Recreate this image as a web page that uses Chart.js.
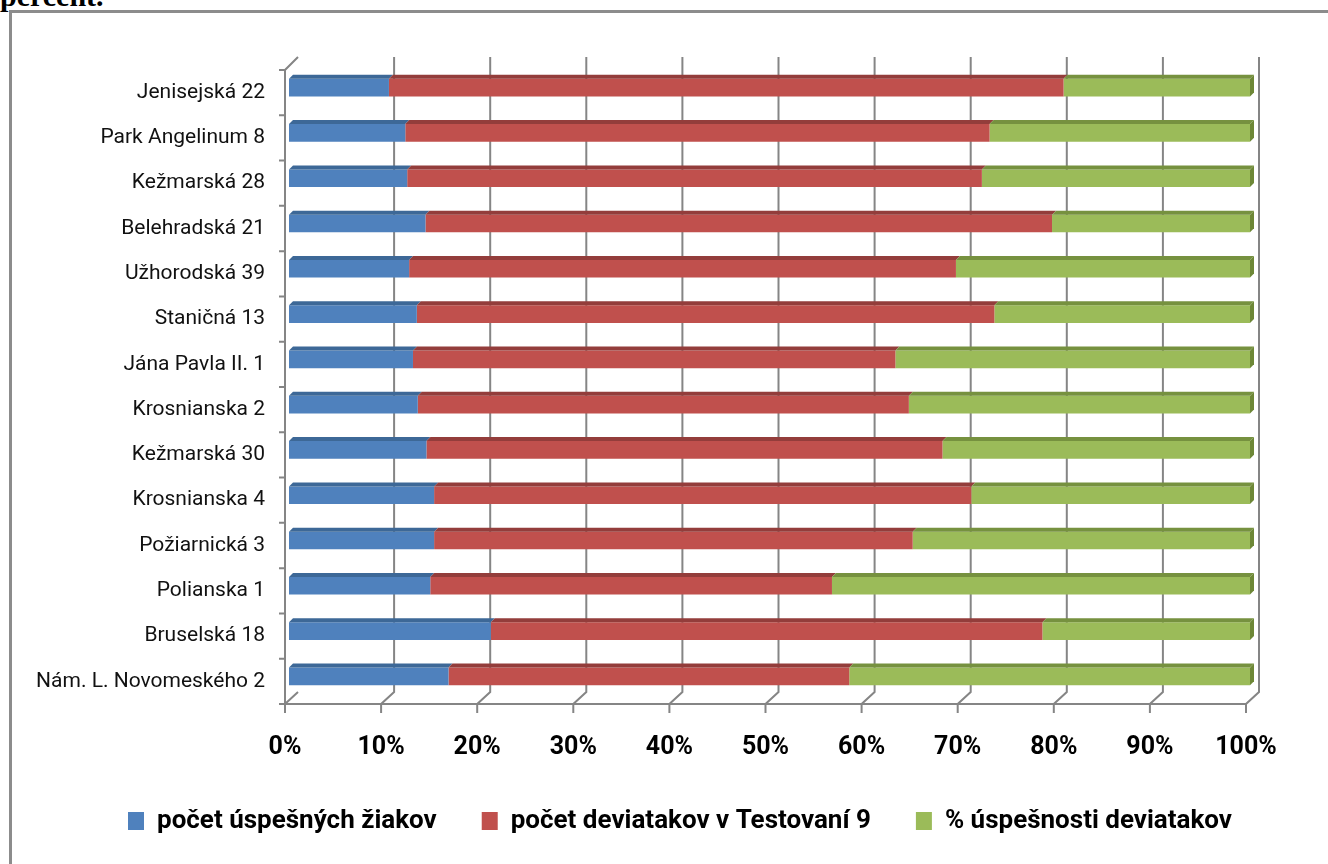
<!DOCTYPE html>
<html>
<head>
<meta charset="utf-8">
<script src="https://cdn.jsdelivr.net/npm/chart.js@4.4.0/dist/chart.umd.min.js"></script>
<style>
body { margin: 0; width: 1328px; height: 864px; overflow: hidden; background: #fff; position: relative; }
#head { position: absolute; left: 0; top: -19px; font: bold 30px 'Liberation Serif'; line-height: 1; }
#frame { position: absolute; left: 9px; top: 10px; width: 1400px; height: 900px; border: 3px solid #8c8c8c; background: #fff; }
#wrap { position: absolute; left: 0; top: 0; width: 1328px; height: 864px; }
</style>
</head>
<body>
<div id="head">percent.</div>
<div id="frame"></div>
<div id="wrap"><canvas id="chart" width="1328" height="864"></canvas></div>
<script>
// schools, top to bottom
var schools = [
    'Jenisejská 22', 'Park Angelinum 8', 'Kežmarská 28', 'Belehradská 21',
    'Užhorodská 39', 'Staničná 13', 'Jána Pavla II. 1', 'Krosnianska 2',
    'Kežmarská 30', 'Krosnianska 4', 'Požiarnická 3', 'Polianska 1',
    'Bruselská 18', 'Nám. L. Novomeského 2'
];
var seriesNames = ['počet úspešných žiakov', 'počet deviatakov v Testovaní 9', '% úspešnosti deviatakov'];

// share of each bar in percent
var successful = [10.4, 12.1, 12.3, 14.2, 12.5, 13.3, 12.9, 13.4, 14.3, 15.1, 15.1, 14.7, 21.0, 16.6];
var ninthGraders = [70.2, 60.8, 59.8, 65.2, 56.9, 60.1, 50.2, 51.1, 53.7, 55.9, 49.8, 41.8, 57.4, 41.7];
var successRate = [19.4, 27.1, 27.9, 20.6, 30.6, 26.6, 36.9, 35.5, 32.0, 29.0, 35.1, 43.5, 21.6, 41.7];

var xTicks = [0, 10, 20, 30, 40, 50, 60, 70, 80, 90, 100];

var frontColors = ['#4f81bd', '#c0504d', '#9bbb59'];
var topColors = ['#3d6897', '#933d3b', '#76913f'];
var sideColor = '#6d8736';

var wall3d = {
    id: 'wall3d',
    afterLayout: function (chart) {
        // legend is centred under the whole picture, not the padded box
        chart.legend.left += 47;
        chart.legend.right += 47;
    },
    beforeDatasetsDraw: function (chart) {
        var ctx = chart.ctx;
        var area = chart.chartArea;
        var xs = chart.scales.x;
        var dx = 13, dy = 12;
        ctx.save();
        ctx.strokeStyle = '#858585';
        ctx.lineWidth = 2;
        xTicks.forEach(function (v) {
            var fx = xs.getPixelForValue(v);
            ctx.beginPath();
            if (v > 0) {
                ctx.moveTo(fx + dx, area.top - dy - 1);
                ctx.lineTo(fx + dx, area.bottom - dy);
            } else {
                ctx.moveTo(fx + dx, area.bottom - dy);
            }
            ctx.lineTo(fx, area.bottom);
            ctx.lineTo(fx, area.bottom + 9);
            ctx.stroke();
        });
        ctx.beginPath();
        ctx.moveTo(area.left, area.bottom);
        ctx.lineTo(area.right, area.bottom);
        ctx.moveTo(area.left + dx, area.top - dy - 1);
        ctx.lineTo(area.left, area.top);
        ctx.lineTo(area.left, area.bottom);
        for (var i = 0; i <= schools.length; i++) {
            var y = area.top + (area.bottom - area.top) * i / schools.length;
            ctx.moveTo(area.left - 6, y);
            ctx.lineTo(area.left, y);
        }
        ctx.stroke();
        ctx.restore();
        // bars sit a bit deeper than the axis
        ctx.save();
        ctx.translate(4, -5);
    },
    afterDatasetsDraw: function (chart) {
        var ctx = chart.ctx;
        var d = 4;
        var last = chart.data.datasets.length - 1;
        chart.data.datasets.forEach(function (ds, di) {
            chart.getDatasetMeta(di).data.forEach(function (bar) {
                var p = bar.getProps(['x', 'y', 'base', 'height'], true);
                var top = p.y - p.height / 2;
                var bottom = p.y + p.height / 2;
                ctx.fillStyle = topColors[di];
                ctx.beginPath();
                ctx.moveTo(p.base, top);
                ctx.lineTo(p.base + d, top - d);
                ctx.lineTo(p.x + d, top - d);
                ctx.lineTo(p.x, top);
                ctx.closePath();
                ctx.fill();
                if (di === last) {
                    ctx.fillStyle = sideColor;
                    ctx.beginPath();
                    ctx.moveTo(p.x, top);
                    ctx.lineTo(p.x + d, top - d);
                    ctx.lineTo(p.x + d, bottom - d);
                    ctx.lineTo(p.x, bottom);
                    ctx.closePath();
                    ctx.fill();
                }
            });
        });
        ctx.restore();
    }
};

var ctx = document.getElementById('chart').getContext('2d');
var chart = new Chart(ctx, {
    type: 'bar',
    data: {
        labels: schools,
        datasets: [
            { label: seriesNames[0], data: successful, backgroundColor: frontColors[0] },
            { label: seriesNames[1], data: ninthGraders, backgroundColor: frontColors[1] },
            { label: seriesNames[2], data: successRate, backgroundColor: frontColors[2] }
        ].map(function (ds) {
            ds.borderWidth = 0;
            ds.categoryPercentage = 1;
            ds.barPercentage = 0.39;
            return ds;
        })
    },
    options: {
        indexAxis: 'y',
        responsive: false,
        animation: false,
        devicePixelRatio: 1,
        layout: { padding: { left: 20, right: 82, top: 70, bottom: 20 } },
        scales: {
            x: {
                stacked: true,
                min: 0,
                max: 100,
                afterFit: function (s) { s.height = 59; },
                afterBuildTicks: function (s) {
                    s.ticks = xTicks.map(function (v) { return { value: v }; });
                },
                grid: { display: false, drawTicks: false },
                border: { display: false },
                ticks: {
                    color: '#000',
                    padding: 29,
                    maxRotation: 0,
                    autoSkip: false,
                    font: { family: 'Roboto', weight: 'bold', size: 25 },
                    callback: function (v) { return v + '%'; }
                }
            },
            y: {
                stacked: true,
                afterFit: function (s) { s.width = 265; },
                grid: { display: false, drawTicks: false },
                border: { display: false },
                ticks: {
                    color: '#111',
                    padding: 20,
                    font: { family: 'Roboto', size: 21 }
                }
            }
        },
        plugins: {
            tooltip: { enabled: false },
            legend: {
                position: 'bottom',
                labels: {
                    boxWidth: 16,
                    boxHeight: 18,
                    padding: 45,
                    color: '#000',
                    font: { family: 'Roboto', weight: 'bold', size: 26 }
                }
            }
        }
    },
    plugins: [wall3d]
});
</script>
</body>
</html>
